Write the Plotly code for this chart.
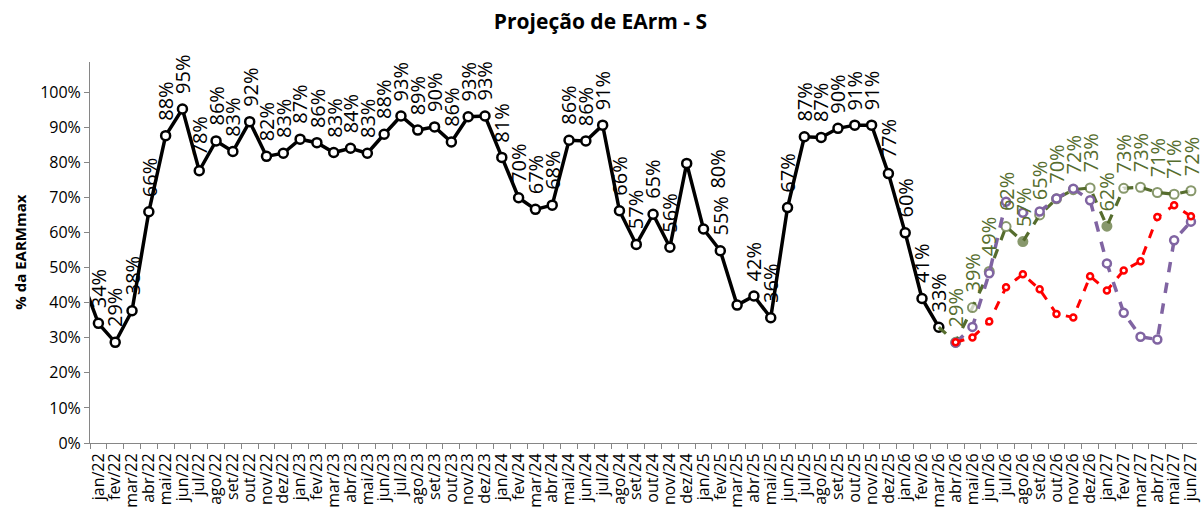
import plotly.graph_objects as go

# Month axis (dez/21 sits just left of the visible window so the first segment enters from the axis)
months = ["jan", "fev", "mar", "abr", "mai", "jun", "jul", "ago", "set", "out", "nov", "dez"]
categories = ["dez/21"] + [f"{m}/{y}" for y in range(22, 28) for m in months][:66]

# Observed stored energy (% of EARMmax), dez/21 .. mar/26
hist_values = [
    0.470,
    0.341, 0.287, 0.377, 0.659, 0.876, 0.952, 0.776, 0.861, 0.831, 0.916, 0.817, 0.826,
    0.866, 0.856, 0.828, 0.840, 0.826, 0.880, 0.932, 0.892, 0.901, 0.858, 0.930, 0.932,
    0.814, 0.699, 0.666, 0.678, 0.863, 0.861, 0.906, 0.662, 0.566, 0.652, 0.558, 0.797,
    0.610, 0.548, 0.393, 0.419, 0.357, 0.671, 0.873, 0.871, 0.897, 0.906, 0.906, 0.768,
    0.599, 0.412, 0.330,
]
hist_cats = categories[:len(hist_values)]

# Projections
green_cats = categories[51:]  # mar/26 .. jun/27
green_values = [0.330, 0.287, 0.386, 0.489, 0.617, 0.574, 0.650, 0.696, 0.722, 0.727,
                0.618, 0.726, 0.729, 0.714, 0.709, 0.719]
green_filled = ["abr/26", "ago/26", "jan/27"]

purple_cats = categories[52:]  # abr/26 .. jun/27
purple_values = [0.286, 0.331, 0.484, 0.688, 0.656, 0.660, 0.697, 0.725, 0.692, 0.512,
                 0.371, 0.303, 0.295, 0.578, 0.631]

red_cats = categories[52:]
red_values = [0.287, 0.301, 0.346, 0.444, 0.481, 0.438, 0.368, 0.358, 0.475, 0.435,
              0.492, 0.518, 0.644, 0.678, 0.646]

BLACK = "#000000"
GREEN = "#566D2E"
PURPLE = "#8064A2"
RED = "#FF0000"
AXIS = "#868686"
FONT = "Open Sans"

fig = go.Figure()

fig.add_trace(go.Scatter(
    x=hist_cats, y=hist_values, mode="lines+markers",
    line=dict(color=BLACK, width=3.5),
    marker=dict(symbol="circle", size=9, color="white", line=dict(color=BLACK, width=2.5)),
    showlegend=False, hoverinfo="skip",
))

fig.add_trace(go.Scatter(
    x=green_cats, y=green_values, mode="lines+markers",
    line=dict(color=GREEN, width=3.2, dash="dash"),
    marker=dict(
        symbol="circle",
        size=[0] + [9] * (len(green_values) - 1),
        color=[GREEN if c in green_filled else "white" for c in green_cats],
        line=dict(color=GREEN, width=2),
    ),
    showlegend=False, hoverinfo="skip",
))

fig.add_trace(go.Scatter(
    x=purple_cats, y=purple_values, mode="lines+markers",
    line=dict(color=PURPLE, width=3.5, dash="dash"),
    marker=dict(symbol="circle", size=8, color="white", line=dict(color=PURPLE, width=2.5)),
    showlegend=False, hoverinfo="skip",
))

fig.add_trace(go.Scatter(
    x=red_cats, y=red_values, mode="lines+markers",
    line=dict(color=RED, width=3, dash="dash"),
    marker=dict(symbol="circle", size=6, color="white", line=dict(color=RED, width=2.5)),
    showlegend=False, hoverinfo="skip",
))

# Rotated value labels above the points
hidden_labels = {"dez/21", "jan/25", "mar/25"}
label_nudge = {"dez/24": (31, -40)}  # pixel shift for a label moved aside
annotations = []


def add_labels(cats, vals, color, skip_first=False):
    for i, (c, v) in enumerate(zip(cats, vals)):
        if c in hidden_labels or (skip_first and i == 0):
            continue
        dx, dy = label_nudge.get(c, (0, 0))
        annotations.append(dict(
            x=c, y=v, xref="x", yref="y", text=f"{v * 100:.0f}%",
            showarrow=False, textangle=-90, xanchor="center", yanchor="bottom",
            xshift=dx, yshift=13 + dy,
            font=dict(family=FONT, size=20, color=color),
        ))


add_labels(hist_cats, hist_values, BLACK)
add_labels(green_cats, green_values, GREEN, skip_first=True)

annotations.append(dict(
    x=-0.064, y=0.5, xref="paper", yref="paper", text="<b>% da EARMmax</b>",
    showarrow=False, textangle=-90, xanchor="center", yanchor="middle",
    font=dict(family=FONT, size=15, color="black"),
))

fig.update_layout(
    width=1201, height=509,
    margin=dict(l=90, r=0, t=62, b=66),
    paper_bgcolor="white", plot_bgcolor="white",
    title=dict(
        text="<b>Projeção de EArm - S</b>", x=0.5, xanchor="center",
        y=1 - 22 / 509, yanchor="middle", yref="container",
        font=dict(family=FONT, size=21, color="black"),
    ),
    annotations=annotations,
    showlegend=False,
)

fig.update_xaxes(
    type="category", categoryorder="array", categoryarray=categories,
    range=[0.5, 66.36], tickangle=-90, tickson="boundaries",
    tickmode="linear", tick0=0, dtick=1,
    ticks="outside", ticklen=5, tickcolor=AXIS, ticklabelstandoff=3,
    showline=True, linecolor=AXIS, linewidth=1, showgrid=False, zeroline=False,
    tickfont=dict(family=FONT, size=16, color="black"),
)

fig.update_yaxes(
    range=[0, 1.086], tickvals=[i / 10 for i in range(11)], tickformat=".0%",
    ticks="outside", ticklen=5, tickcolor=AXIS,
    showline=True, linecolor=AXIS, linewidth=1, showgrid=False, zeroline=False,
    tickfont=dict(family=FONT, size=16, color="black"),
)

fig.write_html("out.html")
